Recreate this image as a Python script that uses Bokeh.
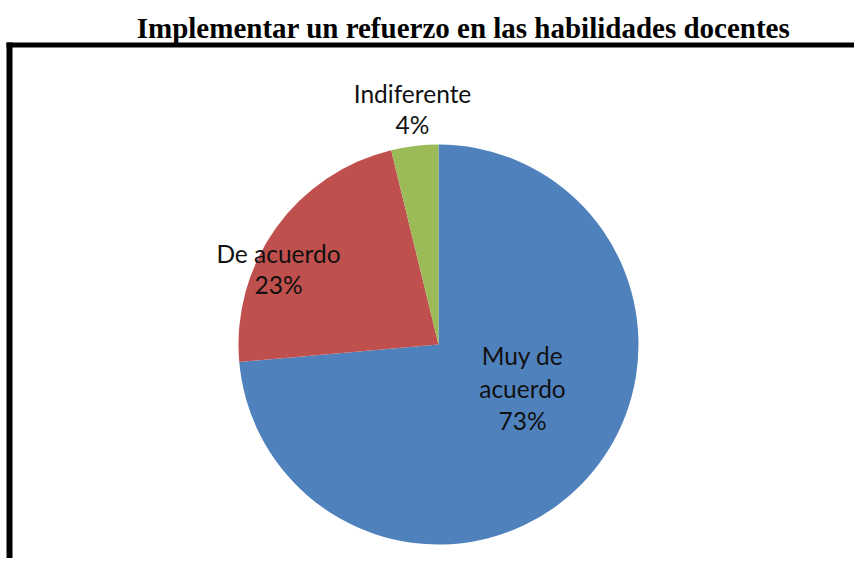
import math
from bokeh.plotting import figure
from bokeh.models import Range1d, ColumnDataSource
from bokeh.core.properties import value
from bokeh.embed import file_html
from bokeh.resources import INLINE

# ---- data ----
categories = ["Muy de acuerdo", "De acuerdo", "Indiferente"]
values = [73.6, 22.6, 3.8]
pct_labels = ["73%", "23%", "4%"]
colors = ["#4F81BD", "#C0504D", "#9BBB59"]
title_text = "Implementar un refuerzo en las habilidades docentes"

W, H = 854, 558
p = figure(width=W, height=H, x_range=Range1d(0, W), y_range=Range1d(0, H),
           x_axis_type=None, y_axis_type=None, toolbar_location=None,
           output_backend="svg", min_border=0)
p.grid.visible = False
p.outline_line_color = None
p.background_fill_color = "white"
p.border_fill_color = "white"

# frame (decorative border)
p.quad(left=[6], right=[W + 10], bottom=[511], top=[516], fill_color="black", line_color=None)
p.quad(left=[6], right=[12], bottom=[-5], top=[516], fill_color="black", line_color=None)

# pie
total = sum(values)
cum = [0.0]
for v in values:
    cum.append(cum[-1] + v)
start = [math.pi / 2 - 2 * math.pi * cum[i] / total for i in range(len(values))]
end = [math.pi / 2 - 2 * math.pi * cum[i + 1] / total for i in range(len(values))]
src = ColumnDataSource(dict(cat=categories, start=start, end=end, color=colors))
cx, cy, r = 438, 214, 200
p.wedge(x=cx, y=cy, radius=r, radius_units="screen", start_angle="start", end_angle="end",
        direction="clock", fill_color="color", line_color=None, source=src)

# labels (line layout per slice)
label_lines = [
    (["Muy de", "acuerdo", pct_labels[0]], 522, [203, 170, 138]),
    (["De acuerdo", pct_labels[1]], 278, [305, 274]),
    (["Indiferente", pct_labels[2]], 412, [465, 434]),
]
lx, ly, lt = [], [], []
for lines, x, ys in label_lines:
    for t, y in zip(lines, ys):
        lx.append(x); ly.append(y); lt.append(t)
p.text(x=lx, y=ly, text=lt, text_font=value("Lato"), text_font_size="24.5px",
       text_color="#111111", text_align="center", text_baseline="alphabetic")

# title
p.text(x=[463], y=[531], text=[title_text], text_font=value("Liberation Serif"),
       text_font_style="bold", text_font_size="29px", text_color="black",
       text_align="center", text_baseline="alphabetic")

open("out.html", "w").write(file_html(p, INLINE))
